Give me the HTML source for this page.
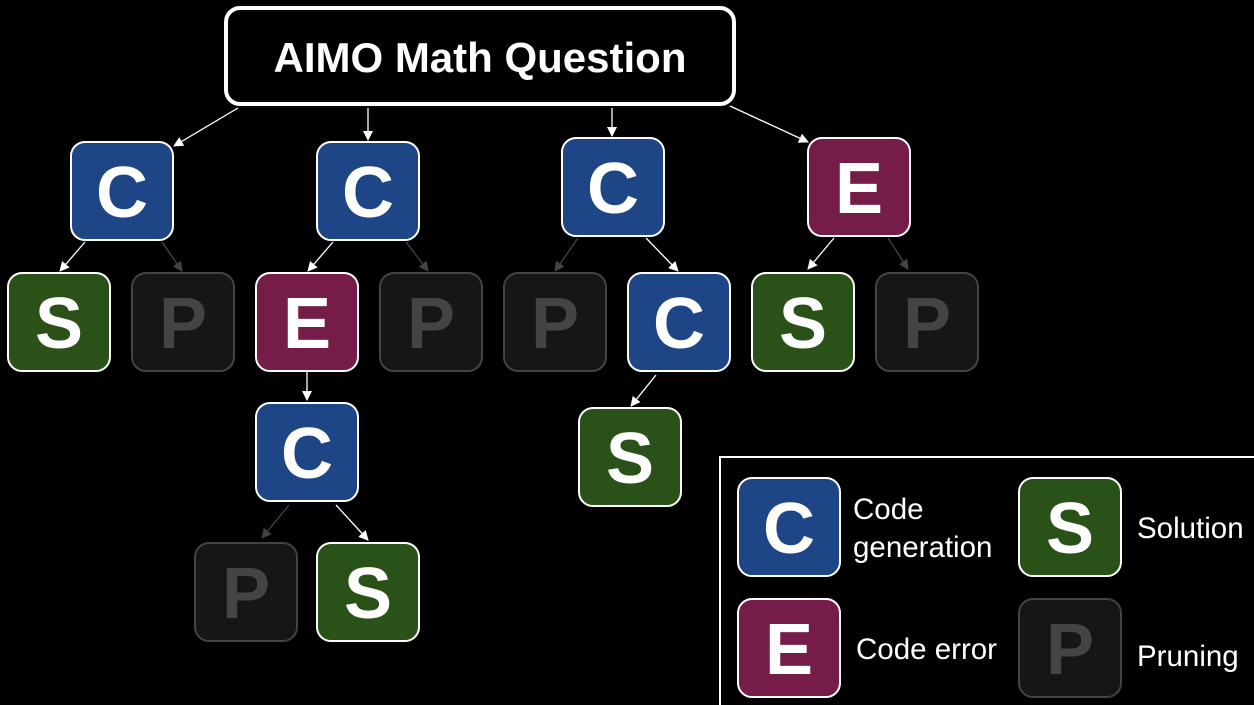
<!DOCTYPE html>
<html><head><meta charset="utf-8"><style>
html,body{margin:0;padding:0;background:#000;width:1254px;height:705px;overflow:hidden}
svg{display:block}
.t{font-family:"Liberation Sans",sans-serif;font-weight:bold;font-size:72px;text-anchor:middle}
.l{font-family:"Liberation Sans",sans-serif;font-size:29.5px;fill:#fff}
</style></head><body>
<svg width="1254" height="705" viewBox="0 0 1254 705" xmlns="http://www.w3.org/2000/svg">
<defs>
<marker id="aw" markerWidth="10" markerHeight="10" refX="9" refY="5" orient="auto" markerUnits="userSpaceOnUse" viewBox="0 0 10 10"><path d="M0,0 L10,5 L0,10 z" fill="#fff"/></marker>
<marker id="ag" markerWidth="10" markerHeight="10" refX="9" refY="5" orient="auto" markerUnits="userSpaceOnUse" viewBox="0 0 10 10"><path d="M0,0 L10,5 L0,10 z" fill="#444"/></marker>
<symbol id="C" viewBox="0 0 104 100" overflow="visible"><rect x="1" y="1" width="102" height="98" rx="14" fill="#1e4586" stroke="#fff" stroke-width="2"/><text x="52" y="76" class="t" fill="#fff">C</text></symbol>
<symbol id="S" viewBox="0 0 104 100" overflow="visible"><rect x="1" y="1" width="102" height="98" rx="14" fill="#2a5117" stroke="#fff" stroke-width="2"/><text x="52" y="76" class="t" fill="#fff">S</text></symbol>
<symbol id="E" viewBox="0 0 104 100" overflow="visible"><rect x="1" y="1" width="102" height="98" rx="14" fill="#751c48" stroke="#fff" stroke-width="2"/><text x="52" y="76" class="t" fill="#fff">E</text></symbol>
<symbol id="P" viewBox="0 0 104 100" overflow="visible"><rect x="1" y="1" width="102" height="98" rx="14" fill="#161616" stroke="#444" stroke-width="2"/><text x="52" y="76" class="t" fill="#444">P</text></symbol>
</defs>
<rect x="226" y="8" width="508" height="96" rx="14" fill="#000" stroke="#fff" stroke-width="4"/>
<text x="480" y="72" font-family="Liberation Sans,sans-serif" font-weight="bold" font-size="42" fill="#fff" text-anchor="middle">AIMO Math Question</text>
<g stroke-width="1.3" fill="none">
<line x1="238" y1="108" x2="174" y2="146" stroke="#fff" marker-end="url(#aw)"/>
<line x1="368" y1="108" x2="368" y2="140" stroke="#fff" marker-end="url(#aw)"/>
<line x1="612" y1="108" x2="612" y2="136" stroke="#fff" marker-end="url(#aw)"/>
<line x1="730" y1="106" x2="808" y2="142" stroke="#fff" marker-end="url(#aw)"/>
<line x1="85" y1="242" x2="60" y2="271" stroke="#fff" marker-end="url(#aw)"/>
<line x1="162" y1="242" x2="182" y2="271" stroke="#444" marker-end="url(#ag)"/>
<line x1="333" y1="242" x2="308" y2="271" stroke="#fff" marker-end="url(#aw)"/>
<line x1="406" y1="242" x2="428" y2="271" stroke="#444" marker-end="url(#ag)"/>
<line x1="578" y1="238" x2="555" y2="271" stroke="#444" marker-end="url(#ag)"/>
<line x1="646" y1="238" x2="678" y2="271" stroke="#fff" marker-end="url(#aw)"/>
<line x1="834" y1="238" x2="808" y2="269" stroke="#fff" marker-end="url(#aw)"/>
<line x1="888" y1="238" x2="908" y2="269" stroke="#444" marker-end="url(#ag)"/>
<line x1="307" y1="372" x2="307" y2="400" stroke="#fff" marker-end="url(#aw)"/>
<line x1="656" y1="375" x2="631" y2="406" stroke="#fff" marker-end="url(#aw)"/>
<line x1="289" y1="505" x2="262" y2="538" stroke="#444" marker-end="url(#ag)"/>
<line x1="336" y1="505" x2="368" y2="540" stroke="#fff" marker-end="url(#aw)"/>
</g>
<use href="#C" x="70" y="140" width="104" height="102"/>
<use href="#C" x="316" y="140" width="104" height="102"/>
<use href="#C" x="561" y="136" width="104" height="102"/>
<use href="#E" x="807" y="136" width="104" height="102"/>
<use href="#S" x="7" y="272" width="104" height="100"/>
<use href="#P" x="131" y="272" width="104" height="100"/>
<use href="#E" x="255" y="272" width="104" height="100"/>
<use href="#P" x="379" y="272" width="104" height="100"/>
<use href="#P" x="503" y="272" width="104" height="100"/>
<use href="#C" x="627" y="272" width="104" height="100"/>
<use href="#S" x="751" y="272" width="104" height="100"/>
<use href="#P" x="875" y="272" width="104" height="100"/>
<use href="#C" x="255" y="402" width="104" height="100"/>
<use href="#S" x="578" y="407" width="104" height="100"/>
<use href="#P" x="194" y="542" width="104" height="100"/>
<use href="#S" x="316" y="542" width="104" height="100"/>
<rect x="720" y="457" width="540" height="260" fill="#000" stroke="#fff" stroke-width="2"/>
<use href="#C" x="737" y="477" width="104" height="100"/>
<use href="#S" x="1018" y="477" width="104" height="100"/>
<use href="#E" x="737" y="598" width="104" height="100"/>
<use href="#P" x="1018" y="598" width="104" height="100"/>
<text x="853" y="519" class="l">Code</text>
<text x="853" y="557" class="l">generation</text>
<text x="1137" y="538" class="l">Solution</text>
<text x="856" y="659" class="l">Code error</text>
<text x="1137" y="666" class="l">Pruning</text>
</svg>
</body></html>
